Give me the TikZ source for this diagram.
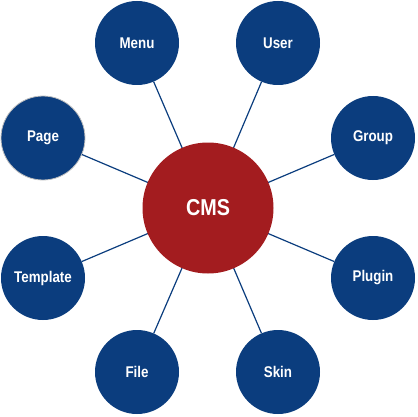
\documentclass[tikz,border=0pt]{standalone}
\usepackage{fontspec}
\setmainfont{Liberation Sans}
\newfontfamily\narrowfont[FakeStretch=0.86]{Liberation Sans}
\usetikzlibrary{positioning}

\definecolor{cmsred}{RGB}{163,28,31}
\definecolor{cmsblue}{RGB}{11,61,126}

\tikzset{
    hub/.style={circle, fill=cmsred, minimum size=131pt, inner sep=0pt,
        text=white, font=\narrowfont\bfseries\fontsize{23}{23}\selectfont},
    part/.style={circle, fill=cmsblue, minimum size=84pt, inner sep=0pt,
        text=white, font=\narrowfont\bfseries\fontsize{15.5}{15.5}\selectfont},
    spoke/.style={draw=cmsblue, line width=1.2pt}
}

\begin{document}
\begin{tikzpicture}[x=1pt, y=-1pt]
    \useasboundingbox (0,0) rectangle (417,417);

    \coordinate (O) at (208,208);

    \node[part] (menu) at (137,43) {Menu};
    \node[part] (user) at (278,43) {User};
    \node[part, draw=black!25, line width=0.8pt] (page) at (43,138) {Page};
    \node[part] (group) at (373,138) {Group};
    \node[part] (template) at (43,278) {Template};
    \node[part] (plugin) at (373,278) {Plugin};
    \node[part] (file) at (137,372) {File};
    \node[part] (skin) at (278,372) {Skin};

    \foreach \p in {menu,user,page,group,template,plugin,file,skin} {\draw[spoke] (O) -- (\p);}

    \node[hub] (cms) at (O) {CMS};
\end{tikzpicture}
\end{document}
